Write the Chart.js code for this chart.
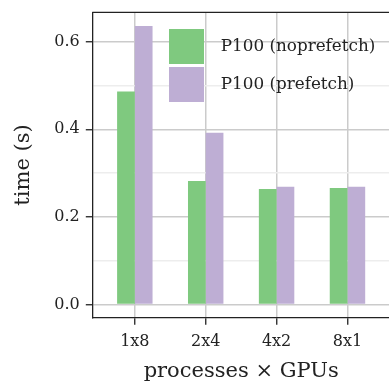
<!DOCTYPE html>
<html>
<head>
<meta charset="utf-8">
<script src="https://cdn.jsdelivr.net/npm/chart.js@4"></script>
<style>
    html, body { margin: 0; padding: 0; overflow: hidden; background: #fff; }
    #wrap { width: 392px; height: 382px; }
</style>
</head>
<body>
<div id="wrap"><canvas id="timeChart"></canvas></div>
<script>
// data
const categories = ["1x8", "2x4", "4x2", "8x1"];
const seriesNames = ["P100 (noprefetch)", "P100 (prefetch)"];
const noprefetch = [0.486, 0.282, 0.264, 0.266];
const prefetch = [0.636, 0.392, 0.269, 0.269];
const yTickValues = [0.0, 0.2, 0.4, 0.6];
const yTickLabels = ["0.0", "0.2", "0.4", "0.6"];
const yMinorTicks = [0.1, 0.3, 0.5];

document.addEventListener("DOMContentLoaded", () => {

    const ctx = document.getElementById("timeChart");
    if (!ctx) return;

    Chart.defaults.font.family = "'DejaVu Serif', serif";
    Chart.defaults.color = "#222";

    const isMinor = (v) => yMinorTicks.some(m => Math.abs(m - v) < 1e-9);

    // top/right edges of the axes box
    const frame = {
        id: "frame",
        afterDraw(chart) {
            const a = chart.chartArea;
            const c = chart.ctx;
            c.save();
            c.strokeStyle = "#222";
            c.lineWidth = 1.3;
            c.beginPath();
            c.moveTo(a.left, a.top);
            c.lineTo(a.right, a.top);
            c.lineTo(a.right, a.bottom);
            c.stroke();
            c.restore();
        }
    };

    // put the legend where the reference has it
    const legendSpot = {
        id: "legendSpot",
        afterLayout(chart) {
            const lg = chart.legend;
            if (!lg) return;
            lg.left = 169 - 3;
            lg.top = 29 - 3;
        }
    };

    const toPoints = (arr) => arr.map((v, i) => ({ x: i, y: v }));

    new Chart(ctx, {
        type: "bar",
        data: {
            datasets: [
                {
                    label: seriesNames[0],
                    data: toPoints(noprefetch),
                    backgroundColor: "#7fc97f",
                    borderWidth: 0
                },
                {
                    label: seriesNames[1],
                    data: toPoints(prefetch),
                    backgroundColor: "#beaed4",
                    borderWidth: 0
                }
            ]
        },
        options: {
            responsive: true,
            maintainAspectRatio: false,
            animation: false,
            barPercentage: 1,
            categoryPercentage: 0.5,
            layout: { padding: { top: 12.3, right: 2, left: 0, bottom: 0 } },
            plugins: {
                tooltip: { enabled: false },
                legend: {
                    position: "chartArea",
                    align: "start",
                    labels: {
                        boxWidth: 35,
                        boxHeight: 35,
                        padding: 3,
                        color: "#222",
                        font: { size: 16.8 },
                        generateLabels(chart) {
                            const items = Chart.defaults.plugins.legend.labels.generateLabels(chart);
                            items.forEach(it => { it.text = "\u2002" + it.text; it.lineWidth = 0; });
                            return items;
                        }
                    }
                }
            },
            scales: {
                x: {
                    type: "linear",
                    min: -0.6,
                    max: 3.6,
                    offset: false,
                    afterBuildTicks(scale) {
                        scale.ticks = categories.map((_, i) => ({ value: i }));
                    },
                    afterFit(scale) {
                        scale.height = 64.3;
                    },
                    ticks: {
                        autoSkip: false,
                        maxRotation: 0,
                        padding: 8,
                        font: { size: 16 },
                        callback: (v) => categories[v]
                    },
                    grid: {
                        offset: false,
                        color: "#cbcbcb",
                        lineWidth: 1.5,
                        drawTicks: true,
                        tickLength: 7,
                        tickColor: "#222",
                        tickWidth: 1.3
                    },
                    border: { display: true, color: "#222", width: 1.3 },
                    title: {
                        display: true,
                        text: "processes \u00d7 GPUs",
                        font: { size: 21, lineHeight: 1 },
                        padding: { top: 0, bottom: 0 }
                    }
                },
                y: {
                    min: -0.03,
                    max: 0.667,
                    afterBuildTicks(scale) {
                        scale.ticks = yTickValues.concat(yMinorTicks)
                            .sort((a, b) => a - b)
                            .map(v => ({ value: v }));
                    },
                    afterFit(scale) {
                        scale.width = 92.3;
                    },
                    ticks: {
                        padding: 6,
                        font: { size: 16, lineHeight: 0.7 },
                        callback: (v) => {
                            const i = yTickValues.findIndex(t => Math.abs(t - v) < 1e-9);
                            return i >= 0 ? yTickLabels[i] : "";
                        }
                    },
                    grid: {
                        color: (c) => isMinor(c.tick.value) ? "#ededed" : "#cbcbcb",
                        lineWidth: 1.5,
                        drawTicks: true,
                        tickLength: 6.5,
                        tickColor: (c) => isMinor(c.tick.value) ? "rgba(0,0,0,0)" : "#222",
                        tickWidth: 1.3
                    },
                    border: { display: true, color: "#222", width: 1.3 },
                    title: {
                        display: true,
                        text: "time (s)",
                        font: { size: 21, lineHeight: 1 },
                        padding: { top: 13.5, bottom: 0 }
                    }
                }
            }
        },
        plugins: [frame, legendSpot]
    });

});
</script>
</body>
</html>
